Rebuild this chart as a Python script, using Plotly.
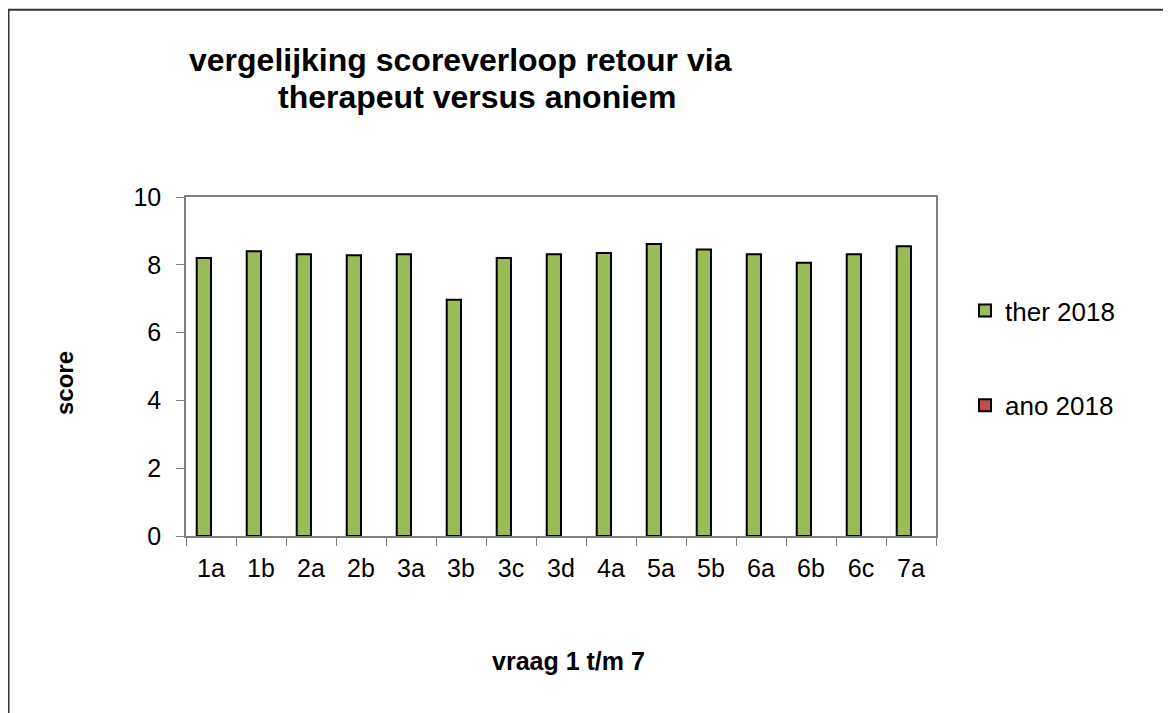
import plotly.graph_objects as go

categories = ["1a", "1b", "2a", "2b", "3a", "3b", "3c", "3d", "4a", "5a", "5b", "6a", "6b", "6c", "7a"]
ther_2018 = [8.2, 8.4, 8.31, 8.28, 8.31, 6.97, 8.2, 8.31, 8.35, 8.61, 8.45, 8.31, 8.06, 8.31, 8.55]
ano_2018 = [None] * len(categories)
y_ticks = [0, 2, 4, 6, 8, 10]

FONT = "Liberation Sans, Arial, sans-serif"
W, H = 1171, 713
L, R, T, B = 178, 243, 189, 185
PW, PH = W - L - R, H - T - B
OFF = 8  # page body margin


def sx(x):
    """screen x pixel -> paper coordinate"""
    return (x - OFF - L) / PW


def sy(y):
    """screen y pixel -> paper coordinate"""
    return (H - B - (y - OFF)) / PH


fig = go.Figure()
fig.add_trace(go.Bar(
    x=categories, y=ther_2018, name="ther 2018",
    marker=dict(color="#9BBB59", line=dict(color="black", width=2)),
    legendgroup="a",
))
fig.add_trace(go.Bar(
    x=categories, y=ano_2018, name="ano 2018",
    marker=dict(color="#C0504D", line=dict(color="black", width=2)),
    legendgroup="b",
))

fig.update_layout(
    width=W, height=H,
    margin=dict(l=L, r=R, t=T, b=B, autoexpand=False),
    paper_bgcolor="white", plot_bgcolor="white",
    barmode="group", bargap=0.4286, bargroupgap=0,
    font=dict(family=FONT, size=25, color="black"),
    showlegend=True,
    legend=dict(
        x=sx(965), y=sy(287), xanchor="left", yanchor="top",
        font=dict(family=FONT, size=26, color="black"),
        traceorder="grouped", tracegroupgap=58,
        itemwidth=30, bgcolor="rgba(0,0,0,0)",
    ),
    xaxis=dict(
        type="category", showline=True, linecolor="#808080", linewidth=1.5,
        mirror=True, ticks="outside", tickson="boundaries", ticklen=8,
        tickcolor="#808080", showgrid=False, range=[-0.5, 14.5],
        tickfont=dict(family=FONT, size=25), ticklabelstandoff=9,
    ),
    yaxis=dict(
        range=[0, 10], tickvals=y_ticks, showline=True, linecolor="#808080",
        linewidth=1.5, mirror=True, ticks="outside", ticklen=8,
        tickcolor="#808080", showgrid=False, zeroline=False,
        tickfont=dict(family=FONT, size=25), ticklabelstandoff=10,
    ),
    annotations=[
        dict(text="<b>vergelijking scoreverloop retour via</b>",
             x=sx(460.5), y=sy(60.5), xref="paper", yref="paper", showarrow=False,
             xanchor="center", yanchor="middle",
             font=dict(family=FONT, size=32, color="black")),
        dict(text="<b>therapeut versus anoniem</b>",
             x=sx(477), y=sy(96.5), xref="paper", yref="paper", showarrow=False,
             xanchor="center", yanchor="middle",
             font=dict(family=FONT, size=32, color="black")),
        dict(text="<b>score</b>", x=sx(64), y=sy(383), xref="paper", yref="paper",
             showarrow=False, textangle=-90, xanchor="center", yanchor="middle",
             font=dict(family=FONT, size=24, color="black")),
        dict(text="<b>vraag 1 t/m 7</b>", x=sx(568), y=sy(661), xref="paper", yref="paper",
             showarrow=False, xanchor="center", yanchor="middle",
             font=dict(family=FONT, size=25, color="black")),
    ],
    shapes=[
        dict(type="rect", xref="paper", yref="paper",
             x0=-(L - 0.5) / PW, x1=(W - 1 - L) / PW,
             y0=(H - B - (H - 1)) / PH, y1=(H - B - 1.8) / PH,
             line=dict(color="#333333", width=2), fillcolor="rgba(0,0,0,0)",
             layer="above"),
    ],
)

fig.write_html("out.html")
